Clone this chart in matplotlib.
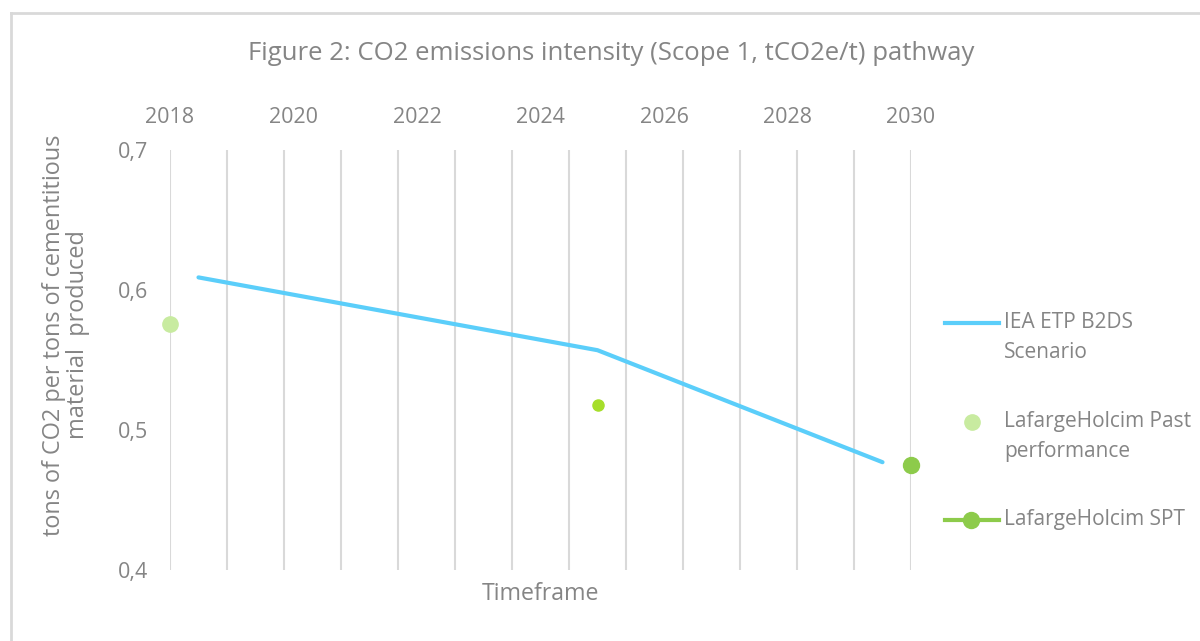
import matplotlib
matplotlib.use("Agg")
import matplotlib.pyplot as plt

# categories on the (hidden) bottom axis: one slot per year
years = list(range(2018, 2031))

# IEA ETP B2DS scenario line
iea_years = [2018, 2025, 2030]
iea_values = [0.609, 0.557, 0.477]

# LafargeHolcim points
past_years = [2018]
past_values = [0.576]
mid_years = [2025]
mid_values = [0.518]
spt_years = [2030]
spt_values = [0.475]

top_ticks = [2018, 2020, 2022, 2024, 2026, 2028, 2030]
y_ticks = [0.4, 0.5, 0.6, 0.7]

blue = '#5BCEFA'
past_col = '#C8EBA0'
mid_col = '#A6DE2A'
spt_col = '#8DCB4B'
grey = '#858585'

plt.rcParams['font.family'] = ['Open Sans', 'DejaVu Sans']

W, H = 1200, 641
fig = plt.figure(figsize=(W / 100, H / 100), dpi=100)
ax = fig.add_axes([170 / W, 71 / H, 741 / W, 420 / H])

pos = {y: i + 0.5 for i, y in enumerate(years)}
ax.set_xlim(0, len(years))
ax.set_ylim(0.4, 0.7)
ax.set_xticks(range(len(years) + 1))
ax.set_xticklabels([])
ax.tick_params(axis='x', length=0)
ax.grid(axis='x', color='#d9d9d9', lw=1.5)
ax.set_axisbelow(True)
ax.set_yticks(y_ticks)
ax.set_yticklabels([f'{v:.1f}'.replace('.', ',') for v in y_ticks])
ax.tick_params(axis='y', length=0, pad=16, labelsize=15.5, labelcolor=grey)
for s in ax.spines.values():
    s.set_visible(False)
ax.set_xlabel('Timeframe', fontsize=16.7, color=grey)
ax.xaxis.set_label_coords(0.5, -0.028)

ax.plot([pos[y] for y in iea_years], iea_values, color=blue, lw=3,
        solid_capstyle='round', zorder=3)
ax.plot([pos[y] for y in mid_years], mid_values, 'o', ms=8, color=mid_col, zorder=4)

# value axis on top for the scatter series
ax2 = ax.twiny()
ax2.set_xlim(2018, 2030)
ax2.set_xticks(top_ticks)
ax2.tick_params(axis='x', length=0, pad=16, labelsize=15.5, labelcolor=grey)
for s in ax2.spines.values():
    s.set_visible(False)
ax2.plot(past_years, past_values, 'o', ms=11, color=past_col, clip_on=False, zorder=4)
ax2.plot(spt_years, spt_values, 'o-', ms=11.5, lw=3, color=spt_col, clip_on=False, zorder=4)

fig.text(611 / W, 1 - 54 / H, 'Figure 2: CO2 emissions intensity (Scope 1, tCO2e/t) pathway',
         ha='center', va='center', fontsize=18.5, color=grey)
fig.text(66 / W, 1 - 335 / H, 'tons of CO2 per tons of cementitious\nmaterial  produced',
         rotation=90, ha='center', va='center', multialignment='center',
         fontsize=16.9, color=grey, linespacing=1.05)

# legend and chart border drawn in pixel coordinates
lax = fig.add_axes([0, 0, 1, 1])
lax.set_xlim(0, W)
lax.set_ylim(H, 0)
lax.axis('off')
lax.plot([11, 11], [H, 13], color='#d9d9d9', lw=2)
lax.plot([11, W], [13, 13], color='#d9d9d9', lw=2)

lax.plot([945, 999], [323, 323], color=blue, lw=3)
lax.plot([972], [422], 'o', ms=11, color=past_col)
lax.plot([945, 999], [520, 520], color=spt_col, lw=3)
lax.plot([971], [520], 'o', ms=11.5, color=spt_col)
leg_lines = [('IEA ETP B2DS', 323), ('Scenario', 352),
             ('LafargeHolcim Past', 422), ('performance', 451),
             ('LafargeHolcim SPT', 520)]
for txt, yy in leg_lines:
    lax.text(1004, yy, txt, ha='left', va='center', fontsize=15, color=grey)

fig.savefig('out.png', dpi=100)
